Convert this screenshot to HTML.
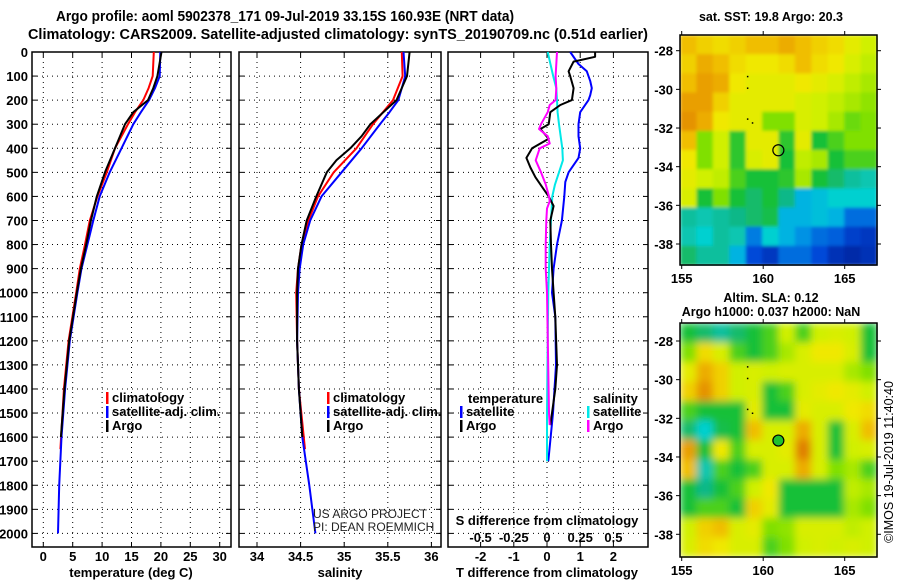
<!DOCTYPE html>
<html><head><meta charset="utf-8">
<style>
html,body{margin:0;padding:0;background:#fff;}
svg{display:block;font-family:"Liberation Sans",Arial,sans-serif;}
.b{font-weight:bold;}
</style></head>
<body>
<svg id="fig" width="900" height="580" viewBox="0 0 900 580" xmlns="http://www.w3.org/2000/svg">
<defs>
<filter id="blurSST" x="0" y="0" width="1" height="1" filterUnits="objectBoundingBox"><feGaussianBlur stdDeviation="1.5" edgeMode="duplicate"/></filter>
<filter id="blurSLA" x="0" y="0" width="1" height="1" filterUnits="objectBoundingBox"><feGaussianBlur stdDeviation="4" edgeMode="duplicate"/></filter>
</defs>
<rect width="900" height="580" fill="#fff"/>
<text class="b" x="285" y="21" font-size="14.5" text-anchor="middle" textLength="458" lengthAdjust="spacingAndGlyphs">Argo profile: aoml 5902378_171 09-Jul-2019 33.15S 160.93E (NRT data)</text>
<text class="b" x="338" y="39" font-size="14.5" text-anchor="middle" textLength="620" lengthAdjust="spacingAndGlyphs">Climatology: CARS2009. Satellite-adjusted climatology: synTS_20190709.nc (0.51d earlier)</text>
<g id="g"></g>
</svg>
<script>
// ---------- data ----------
const depthTicks = [0,100,200,300,400,500,600,700,800,900,1000,1100,1200,1300,1400,1500,1600,1700,1800,1900,2000];
const tTicks = [0,5,10,15,20,25,30];
const sTicks = [34,34.5,35,35.5,36];
const sTickLabels = ["34","34.5","35","35.5","36"];
const dTTicks = [-2,-1,0,1,2];
const dSTicks = [-0.5,-0.25,0,0.25,0.5];
const dSTickLabels = ["-0.5","-0.25","0","0.25","0.5"];

const tArgoDep = [0,100,150,200,250,300,400,500,600,700,800,900,1000,1200,1400,1600];
const tArgo    = [20.1,19.4,18.7,17.8,15.3,13.9,12.2,10.5,9.1,8.1,7.3,6.4,5.7,4.4,3.6,3.0];
const tClimDep = [0,100,150,200,250,300,400,500,600,700,800,900,1000,1200,1400,1650];
const tClim    = [18.8,18.6,17.9,17.0,15.6,14.4,12.2,10.8,9.2,7.9,7.1,6.2,5.6,4.3,3.5,2.9];
const tSatDep  = [0,100,150,200,250,300,400,500,600,700,800,900,1000,1200,1400,1600,1800,2000];
const tSat     = [19.9,19.8,19.0,18.0,16.6,15.3,13.3,11.3,9.6,8.5,7.5,6.5,5.8,4.5,3.7,3.1,2.7,2.5];

const sArgoDep = [0,100,200,250,300,350,400,450,500,600,700,800,900,1000,1200,1400,1600];
const sArgo    = [35.75,35.72,35.60,35.45,35.30,35.20,35.07,34.91,34.80,34.68,34.57,34.51,34.47,34.46,34.46,34.48,34.52];
const sClimDep = [0,100,200,300,400,500,600,700,800,900,1000,1200,1400,1650];
const sClim    = [35.66,35.67,35.56,35.33,35.14,34.88,34.70,34.59,34.51,34.47,34.45,34.46,34.48,34.55];
const sSatDep  = [0,100,150,200,250,300,400,500,600,700,800,900,1000,1200,1400,1600,1800,2000];
const sSat     = [35.68,35.70,35.66,35.62,35.52,35.41,35.20,34.97,34.74,34.61,34.53,34.49,34.47,34.46,34.48,34.52,34.60,34.67];

const dTArgoDep = [0,20,40,80,100,150,200,220,250,300,320,360,400,440,480,520,560,600,640,700,800,900,1000,1100,1300,1400,1500,1550];
const dTArgo    = [1.45,1.45,0.8,0.65,0.7,0.8,0.75,0.4,0.1,0.05,-0.2,0.05,-0.45,-0.62,-0.5,-0.35,-0.15,0.05,0.2,0.1,0.12,0.15,0.2,0.25,0.3,0.25,0.15,0.1];
const dTSatDep  = [0,50,80,120,150,180,200,250,300,350,400,440,500,540,600,700,800,900,1000,1100,1300,1500,1700];
const dTSat     = [0.7,0.95,1.2,1.3,1.35,1.3,1.25,1.0,0.95,0.95,1.0,0.95,0.65,0.55,0.52,0.45,0.3,0.2,0.15,0.25,0.27,0.18,0.04];
const dSSatDep  = [0,100,150,200,250,300,400,450,500,550,600,700,800,1000,1200,1500,1700];
const dSSat     = [0.005,0.047,0.07,0.075,0.08,0.09,0.115,0.12,0.09,0.06,0.04,0.03,0.02,0.01,0.005,0,0];
const dSArgoDep = [0,100,150,200,220,250,300,320,350,380,400,450,500,550,600,620,650,700,800,900,1000,1500,1550];
const dSArgo    = [0.075,0.065,0.07,0.065,0.02,0.005,-0.045,-0.06,0.005,0.02,-0.055,-0.085,-0.045,-0.01,0.015,0.02,0,-0.005,-0.01,-0.01,0,0.015,0.02];

const sstGrid = [
[0.85,0.82,0.8,0.82,0.85,0.85,0.88,0.85,0.82,0.8,0.75,0.7],
[0.82,0.88,0.85,0.8,0.78,0.78,0.8,0.85,0.8,0.78,0.72,0.68],
[0.85,0.9,0.88,0.78,0.75,0.75,0.75,0.78,0.75,0.72,0.68,0.65],
[0.9,0.9,0.82,0.75,0.75,0.75,0.75,0.72,0.7,0.68,0.65,0.62],
[0.92,0.88,0.78,0.75,0.75,0.6,0.6,0.72,0.7,0.65,0.58,0.6],
[0.85,0.6,0.7,0.52,0.75,0.75,0.52,0.75,0.5,0.55,0.6,0.6],
[0.78,0.6,0.7,0.52,0.72,0.75,0.5,0.68,0.65,0.5,0.55,0.55],
[0.75,0.7,0.68,0.55,0.5,0.5,0.52,0.65,0.5,0.45,0.4,0.38],
[0.72,0.5,0.6,0.5,0.45,0.5,0.42,0.3,0.32,0.35,0.35,0.35],
[0.4,0.38,0.4,0.42,0.45,0.48,0.3,0.3,0.32,0.3,0.2,0.2],
[0.38,0.35,0.4,0.38,0.22,0.35,0.3,0.25,0.2,0.18,0.12,0.1],
[0.45,0.4,0.4,0.3,0.15,0.1,0.2,0.2,0.15,0.08,0.05,0.08]];
const slaGrid = [
[0.5,0.45,0.4,0.45,0.5,0.55,0.7,0.55,0.7,0.72,0.7,0.5],
[0.6,0.8,0.72,0.55,0.5,0.55,0.65,0.72,0.78,0.78,0.72,0.5],
[0.75,0.88,0.82,0.7,0.72,0.7,0.72,0.72,0.72,0.72,0.65,0.6],
[0.82,0.92,0.82,0.7,0.72,0.5,0.55,0.72,0.75,0.78,0.75,0.7],
[0.55,0.5,0.5,0.5,0.75,0.5,0.5,0.75,0.72,0.72,0.78,0.8],
[0.45,0.35,0.48,0.5,0.85,0.72,0.72,0.88,0.72,0.5,0.72,0.85],
[0.9,0.5,0.78,0.55,0.72,0.72,0.75,0.95,0.72,0.5,0.7,0.72],
[0.85,0.38,0.55,0.5,0.55,0.72,0.72,0.88,0.72,0.6,0.65,0.55],
[0.5,0.42,0.5,0.55,0.7,0.78,0.5,0.5,0.5,0.5,0.68,0.65],
[0.5,0.55,0.55,0.5,0.82,0.75,0.5,0.5,0.5,0.5,0.65,0.6],
[0.7,0.82,0.85,0.72,0.75,0.6,0.62,0.72,0.72,0.72,0.68,0.7],
[0.72,0.8,0.78,0.72,0.72,0.55,0.6,0.7,0.72,0.7,0.72,0.7]];
const latTicks = [-28,-30,-32,-34,-36,-38];
const lonTicks = [155,160,165];
const argoLon = 160.93, argoLat = -33.15;

// ---------- helpers ----------
const NS="http://www.w3.org/2000/svg";
const G=document.getElementById('g');
function mk(tag,attrs,parent){const e=document.createElementNS(NS,tag);for(const k in attrs)e.setAttribute(k,attrs[k]);(parent||G).appendChild(e);return e;}
function txt(x,y,s,size,anchor,bold,parent){const t=mk('text',{x:x,y:y,'font-size':size,'text-anchor':anchor||'middle','font-weight':bold?'bold':'normal'},parent);t.textContent=s;return t;}

const TOP=52, BOT=547;
const yD = d => TOP + d*0.2407;
const panels = [
 {name:'temperature', x0:32, x1:231, f:v=>43.3+v*5.88},
 {name:'salinity', x0:239, x1:441, f:v=>257+(v-34)*87.2},
 {name:'difference', x0:448, x1:648, f:v=>547+v*33.2}
];
const fS = v=>547+v*132.8;

depthTicks.forEach(d=>{
  const t=txt(28,yD(d)+5,String(d),13,'end',true);
  
  
});

panels.forEach((p,i)=>{
  const pg=mk('g',{});
  
  
  depthTicks.forEach(d=>{ if(d>0) mk('line',{x1:p.x0,x2:p.x1,y1:yD(d),y2:yD(d),stroke:'#000','stroke-width':1,'stroke-dasharray':'1,4'},pg); });
  const ticks = i===0?tTicks:(i===1?sTicks:dTTicks);
  ticks.forEach((v,j)=>{
    const x=p.f(v);
    mk('line',{x1:x,x2:x,y1:TOP,y2:BOT,stroke:'#000','stroke-width':1,'stroke-dasharray':'1,4'},pg);
    mk('line',{x1:x,x2:x,y1:BOT,y2:BOT-5,stroke:'#000'},pg);
    mk('line',{x1:x,x2:x,y1:TOP,y2:TOP+5,stroke:'#000'},pg);
    const lab = i===1?sTickLabels[j]:String(v);
    const t=txt(x,561,lab,13,'middle',true,pg);
    
    
  });
  depthTicks.forEach(d=>{ mk('line',{x1:p.x0,x2:p.x0+5,y1:yD(d),y2:yD(d),stroke:'#000'},pg); mk('line',{x1:p.x1,x2:p.x1-5,y1:yD(d),y2:yD(d),stroke:'#000'},pg); });
  const fr=mk('rect',{x:p.x0,y:TOP,width:p.x1-p.x0,height:BOT-TOP,fill:'none',stroke:'#000','stroke-width':1.5},pg);
  
  
});

function line(dep,vals,f,color,name,w){
  const pts=dep.map((d,k)=>f(vals[k]).toFixed(1)+','+yD(d).toFixed(1)).join(' ');
  const pl=mk('polyline',{points:pts,fill:'none',stroke:color,'stroke-width':w||2,'stroke-linejoin':'round'});
  
  
}
line(tClimDep,tClim,panels[0].f,'#f00','temperature-climatology-line');
line(tSatDep,tSat,panels[0].f,'#00f','temperature-satellite-line');
line(tArgoDep,tArgo,panels[0].f,'#000','temperature-argo-line');
line(sClimDep,sClim,panels[1].f,'#f00','salinity-climatology-line');
line(sSatDep,sSat,panels[1].f,'#00f','salinity-satellite-line');
line(sArgoDep,sArgo,panels[1].f,'#000','salinity-argo-line');
line(dTSatDep,dTSat,panels[2].f,'#00f','t-diff-satellite-line');
line(dSSatDep,dSSat,fS,'#00e8e8','s-diff-satellite-line');
line(dTArgoDep,dTArgo,panels[2].f,'#000','t-diff-argo-line');
line(dSArgoDep,dSArgo,fS,'#f0f','s-diff-argo-line');

dSTicks.forEach((v,j)=>{
  const t=txt(fS(v),542,dSTickLabels[j],13,'middle',true);
  
  
});
let t;
t=txt(547,525,'S difference from climatology',13,'middle',true);  
t=txt(131,577,'temperature (deg C)',13,'middle',true);  
t=txt(340,577,'salinity',13,'middle',true);  
t=txt(547,577,'T difference from climatology',13,'middle',true);  
t=txt(313,518,'US ARGO PROJECT',12,'start',false); t.setAttribute('fill','#222');  
t=txt(313,531,'PI: DEAN ROEMMICH',12,'start',false); t.setAttribute('fill','#222');  

function legendEntry(x,y,color,label){
  const g=mk('g',{});
  
  
  mk('rect',{x:x,y:y-10,width:2.5,height:12,fill:color},g);
  txt(x+6,y,label,13,'start',true,g);
}
legendEntry(106,402,'#f00','climatology');
legendEntry(106,416,'#00f','satellite-adj. clim.');
legendEntry(106,430,'#000','Argo');
legendEntry(327,402,'#f00','climatology');
legendEntry(327,416,'#00f','satellite-adj. clim.');
legendEntry(327,430,'#000','Argo');
t=txt(468,403,'temperature',13,'start',true);  
legendEntry(460,416,'#00f','satellite');
legendEntry(460,430,'#000','Argo');
t=txt(593,403,'salinity',13,'start',true);  
legendEntry(587,416,'#00e8e8','satellite');
legendEntry(587,430,'#f0f','Argo');

// ---------- maps ----------
const stops=[[0,[0,26,144]],[0.15,[0,72,216]],[0.28,[0,168,232]],[0.35,[0,208,208]],[0.42,[16,184,136]],[0.5,[24,192,56]],[0.6,[128,224,0]],[0.7,[208,240,0]],[0.78,[240,232,0]],[0.86,[240,184,0]],[0.95,[224,128,0]],[1,[192,80,0]]];
function cmap(v){
  for(let i=1;i<stops.length;i++){ if(v<=stops[i][0]){const a=stops[i-1],b=stops[i];const t=(v-a[0])/(b[0]-a[0]);const c=a[1].map((x,k)=>Math.round(x+(b[1][k]-x)*t));return 'rgb('+c.join(',')+')';}}
  return 'rgb(192,80,0)';
}
function drawMap(y0,y1,grid,name,circleFill,latY0,filt){
  const x0=680,x1=877;
  const lonX=l=>681.7+(l-155)*16.3;
  const latY=l=>latY0+(-28-l)*19.33;
  const mg=mk('g',{});
  
  
  const cg=mk('g',{filter:'url(#'+filt+')'},mg);
  const rows=grid.length, cols=grid[0].length;
  const cw=(x1-x0)/cols, ch=(y1-y0)/rows;
  grid.forEach((row,r)=>row.forEach((v,c)=>{
    const cell=mk('rect',{x:(x0+c*cw).toFixed(2),y:(y0+r*ch).toFixed(2),width:(cw+0.6).toFixed(2),height:(ch+0.6).toFixed(2),fill:cmap(v)},cg);
    
    
  }));
  mk('rect',{x:x0,y:y0,width:x1-x0,height:y1-y0,fill:'none',stroke:'#000','stroke-width':1.5},mg);
  latTicks.forEach(l=>{
    const y=latY(l);
    mk('line',{x1:x0-4,x2:x0,y1:y,y2:y,stroke:'#000'},mg);
    mk('line',{x1:x1,x2:x1+4,y1:y,y2:y,stroke:'#000'},mg);
    const tl=txt(673,y+5,String(l),13,'end',true,mg);
    
    
  });
  lonTicks.forEach(l=>{
    const x=lonX(l);
    mk('line',{x1:x,x2:x,y1:y0-4,y2:y0,stroke:'#000'},mg);
    mk('line',{x1:x,x2:x,y1:y1,y2:y1+4,stroke:'#000'},mg);
    const tl=txt(x,y1+18,String(l),13,'middle',true,mg);
    
    
  });
  [[159,-29.3],[159,-29.9],[159,-31.5],[159.3,-31.7]].forEach(p=>mk('rect',{x:lonX(p[0]),y:latY(p[1]),width:1.5,height:1.5,fill:'#000'},mg));
  const c=mk('circle',{cx:lonX(argoLon),cy:latY(argoLat),r:5.5,fill:circleFill,stroke:'#000','stroke-width':1.2},mg);
  
  
}
drawMap(35,265,sstGrid,'sst-map','none',50.7,'blurSST');
drawMap(323,557,slaGrid,'sla-map','#20c030',341,'blurSLA');
t=txt(771,21,'sat. SST: 19.8 Argo: 20.3',12.5,'middle',true);  
t=txt(771,302,'Altim. SLA: 0.12',12.5,'middle',true);  
t=txt(771,316,'Argo h1000: 0.037 h2000: NaN',12.5,'middle',true);  
t=txt(0,0,'©IMOS 19-Jul-2019 11:40:40',12.5,'middle',false);
t.setAttribute('transform','translate(893,462) rotate(-90)');


</script>
</body></html>
